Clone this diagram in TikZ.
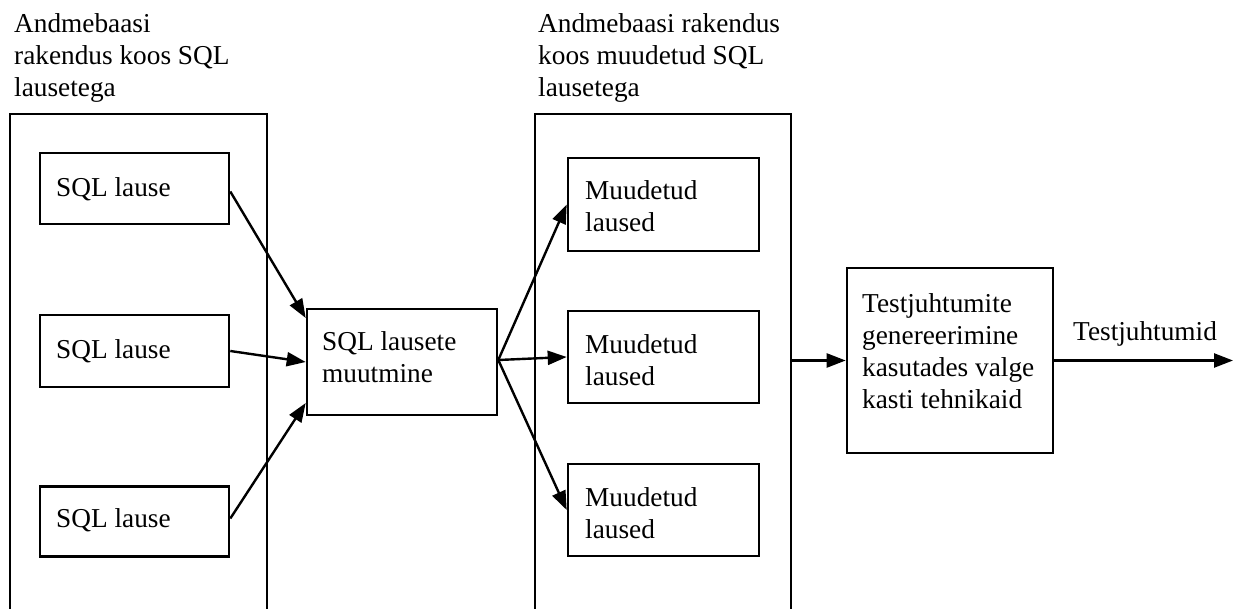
\documentclass[tikz,border=0pt]{standalone}
\usepackage{fontspec}
\setmainfont{Liberation Serif}
\usetikzlibrary{arrows.meta,calc}
\begin{document}
\begin{tikzpicture}[x=1pt,y=-1pt,
  box/.style={draw, line width=2.6pt, rectangle, inner sep=0pt},
  txt/.style={anchor=base west, align=left, inner sep=0pt, font=\fontsize{27.3}{32}\selectfont},
  arr/.style={line width=2.4pt, -{Triangle[length=19pt,width=14pt]}}]
\useasboundingbox (0,0) rectangle (1233,609);
% outer boxes
\node[box, minimum width=257pt, minimum height=496pt] (outA) at (138.5,362) {};
\node[box, minimum width=256pt, minimum height=496pt] (outB) at (663,362) {};
% left SQL boxes
\node[box, minimum width=189pt, minimum height=71pt] (s1) at (134.5,188.5) {};
\node[box, minimum width=189pt, minimum height=72pt] (s2) at (134.5,351) {};
\node[box, minimum width=189pt, minimum height=70pt] (s3) at (134.5,521.5) {};
% middle
\node[box, minimum width=190pt, minimum height=106pt] (mid) at (402,362) {};
% modified boxes
\node[box, minimum width=191pt, minimum height=93pt] (m1) at (663.5,204.5) {};
\node[box, minimum width=191pt, minimum height=92pt] (m2) at (663.5,357) {};
\node[box, minimum width=191pt, minimum height=92pt] (m3) at (663.5,510) {};
% right
\node[box, minimum width=206pt, minimum height=185pt] (rb) at (950,360.5) {};
% texts (anchor at baseline of last line)
\node[txt] (lA) at (14,97) {Andmebaasi\\rakendus koos SQL\\lausetega};
\node[txt] (lB) at (538,97) {Andmebaasi rakendus\\koos muudetud SQL\\lausetega};
\node[txt] (t1) at (56,197) {SQL lause};
\node[txt] (t2) at (56,358) {SQL lause};
\node[txt] (t3) at (56,527) {SQL lause};
\node[txt] (tm) at (322,382) {SQL lausete\\muutmine};
\node[txt] (tm1) at (585,232) {Muudetud\\laused};
\node[txt] (tm2) at (585,385) {Muudetud\\laused};
\node[txt] (tm3) at (585,538) {Muudetud\\laused};
\node[txt] (tr) at (862,408) {Testjuhtumite\\genereerimine\\kasutades valge\\kasti tehnikaid};
\node[txt] (tout) at (1073,340) {Testjuhtumid};
\coordinate (out) at (1233,360.5);
% connectors
\draw[arr] ([yshift=-3pt]s1.east) -- ([yshift=44pt]mid.west);
\draw[arr] (s2.east) -- (mid.west);
\draw[arr] ([yshift=3pt]s3.east) -- ([yshift=-41pt]mid.west);
\draw[arr] ([yshift=2pt]mid.east) -- (m1.west);
\draw[arr] ([yshift=2pt]mid.east) -- (m2.west);
\draw[arr] ([yshift=2pt]mid.east) -- (m3.west);
\draw[arr] (outB.east |- rb.west) -- (rb.west);
\draw[arr] (rb.east) -- (out);
\end{tikzpicture}
\end{document}
